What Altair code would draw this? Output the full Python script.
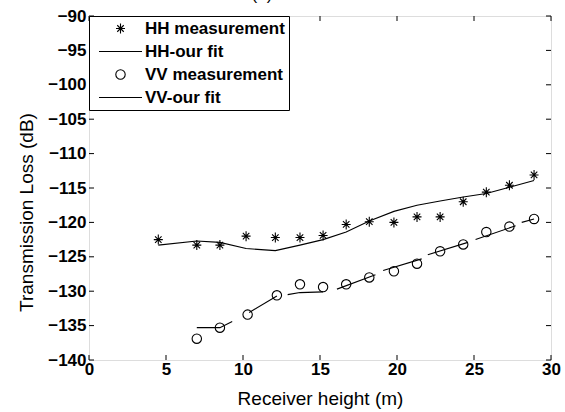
import altair as alt
import pandas as pd

# ---- data ----
hh_x = [4.5, 7.0, 8.5, 10.2, 12.1, 13.7, 15.2, 16.7, 18.2, 19.8, 21.3, 22.8, 24.3, 25.8, 27.3, 28.9]
hh_meas = [-122.5, -123.3, -123.3, -122.0, -122.2, -122.2, -121.9, -120.3, -119.9, -120.0,
           -119.2, -119.2, -117.0, -115.6, -114.6, -113.1]
hh_fit = [-123.3, -122.7, -122.9, -123.8, -124.1, -123.3, -122.5, -121.4, -119.8, -118.4,
          -117.5, -116.9, -116.3, -115.8, -114.9, -113.9]

vv_x = [7.0, 8.5, 10.3, 12.2, 13.7, 15.2, 16.7, 18.2, 19.8, 21.3, 22.8, 24.3, 25.8, 27.3, 28.9]
vv_meas = [-136.9, -135.3, -133.4, -130.6, -129.0, -129.4, -129.0, -128.0, -127.1, -126.0,
           -124.2, -123.2, -121.4, -120.6, -119.5]

vv_fit_seg = [1, 1, 1, 2, 2, 3, 3, 3, 4, 4, 5, 5, 6, 6, 7, 7, 8, 8]
vv_fit_x = [7.0, 8.5, 9.3, 10.4, 12.2, 12.9, 13.7, 15.2, 16.1, 18.6, 19.1, 21.6, 22.0, 24.6,
            25.1, 27.7, 28.1, 28.9]
vv_fit_y = [-135.3, -135.3, -134.4, -133.1, -130.7, -130.5, -130.2, -130.1, -129.7, -127.6,
            -127.0, -125.3, -124.7, -122.9, -122.5, -120.5, -120.0, -119.5]

series_names = ["HH measurement", "HH-our fit", "VV measurement", "VV-our fit"]
x_ticks = [0, 5, 10, 15, 20, 25, 30]
y_ticks = [-140, -135, -130, -125, -120, -115, -110, -105, -100, -95, -90]
panel_label = ["(a)"]

# ---- styling ----
W, H = 462, 344
FONT = "Liberation Sans"
TICK = 5
SYM = 100  # symbol area; custom paths are scaled by sqrt(SYM)/2 = 5 px per unit

star = "M-0.9,0L0.9,0M0,-1L0,1M-0.65,-0.65L0.65,0.65M-0.65,0.65L0.65,-0.65"
circ = "M0.94,0A0.94,0.94,0,1,1,-0.94,0A0.94,0.94,0,1,1,0.94,0Z"
seg = "M-4.3,0L4.3,0"
shape_range = [star, seg, circ, seg]

meas_df = pd.DataFrame({
    "x": hh_x + vv_x,
    "y": hh_meas + vv_meas,
    "series": ["HH measurement"] * len(hh_x) + ["VV measurement"] * len(vv_x),
})
fit_df = pd.concat([
    pd.DataFrame({"x": hh_x, "y": hh_fit, "seg": 0}),
    pd.DataFrame({"x": vv_fit_x, "y": vv_fit_y, "seg": vv_fit_seg}),
])
xt_df = pd.DataFrame({"x": x_ticks})
yt_df = pd.DataFrame({"y": y_ticks})

xs = alt.Scale(domain=[0, 30], nice=False, zero=False)
ys = alt.Scale(domain=[-140, -90], nice=False, zero=False)

x_axis = alt.Axis(values=x_ticks, tickSize=0, domain=False, grid=False,
                  labelFont=FONT, labelFontSize=17, labelFontWeight="bold",
                  labelColor="black", labelPadding=1, labelFlush=False,
                  title="Receiver height (m)", titleFont=FONT, titleFontSize=19,
                  titleFontWeight="normal", titleColor="black",
                  titleY=44, titleBaseline="alphabetic")
y_axis = alt.Axis(values=y_ticks, tickSize=0, domain=False, grid=False,
                  labelFont=FONT, labelFontSize=17, labelFontWeight="bold",
                  labelColor="black", labelPadding=3, labelFlush=False,
                  title="Transmission Loss (dB)", titleFont=FONT, titleFontSize=19,
                  titleFontWeight="normal", titleColor="black",
                  titleX=-63, titleY=H / 2 + 24, titleBaseline="middle")

X = alt.X("x:Q", scale=xs, axis=x_axis)
Y = alt.Y("y:Q", scale=ys, axis=y_axis)

legend = alt.Legend(title=None, orient="top-left", offset=0, padding=4, rowPadding=5,
                    labelFont=FONT, labelFontSize=17, labelFontWeight="bold",
                    labelColor="black", labelOffset=16, labelLimit=400,
                    symbolSize=SYM, symbolOffset=19, symbolStrokeColor="black",
                    symbolStrokeWidth=1.1, symbolFillColor="transparent",
                    strokeColor="black", fillColor="white")

points = alt.Chart(meas_df).mark_point(filled=False, size=SYM, color="black",
                                       strokeWidth=1.1, opacity=1).encode(
    x=X, y=Y,
    shape=alt.Shape("series:N", scale=alt.Scale(domain=series_names, range=shape_range),
                    legend=legend),
)

lines = alt.Chart(fit_df).mark_line(color="black", strokeWidth=1.1).encode(
    x=X, y=Y, detail="seg:N"
)

tick_b = alt.Chart(xt_df).mark_rule(color="black", strokeWidth=1).encode(
    x=X, y=alt.value(H), y2=alt.value(H - TICK))
tick_t = alt.Chart(xt_df).mark_rule(color="black", strokeWidth=1).encode(
    x=X, y=alt.value(0), y2=alt.value(TICK))
tick_l = alt.Chart(yt_df).mark_rule(color="black", strokeWidth=1).encode(
    y=Y, x=alt.value(0), x2=alt.value(TICK))
tick_r = alt.Chart(yt_df).mark_rule(color="black", strokeWidth=1).encode(
    y=Y, x=alt.value(W), x2=alt.value(W - TICK))

label = alt.Chart(pd.DataFrame({"t": panel_label})).mark_text(
    font=FONT, fontSize=17, color="black", baseline="alphabetic", align="center"
).encode(text="t:N", x=alt.value(173), y=alt.value(-16))

chart = alt.layer(tick_b, tick_t, tick_l, tick_r, lines, points, label).properties(
    width=W, height=H,
    autosize=alt.AutoSizeParams(type="none"),
    padding={"left": 89, "top": 16, "right": 14, "bottom": 52},
).configure_view(stroke="black", strokeWidth=1.5).configure(background="white")

chart.save("out.html", embed_options={"renderer": "svg", "actions": False})
